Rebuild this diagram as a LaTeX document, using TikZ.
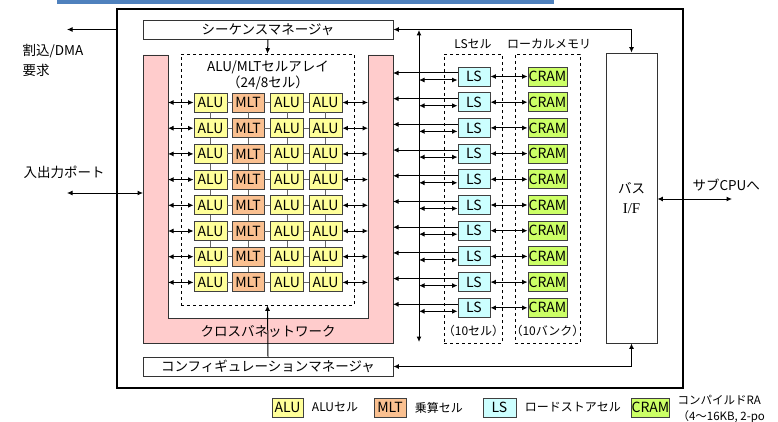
\documentclass[tikz,border=0pt]{standalone}
\usepackage{fontspec}
\setmainfont{Noto Sans CJK JP}
\newfontfamily\serifjp{Liberation Serif}
\usepackage{tikz}
\usetikzlibrary{arrows.meta}
\usetikzlibrary{positioning}
\definecolor{alucol}{HTML}{FFFF99}
\definecolor{mltcol}{HTML}{FAC090}
\definecolor{lscol}{HTML}{CCFFFF}
\definecolor{cramcol}{HTML}{CCFF66}
\definecolor{xbarcol}{HTML}{FFCCCC}
\definecolor{barcol}{HTML}{4F81BD}
\definecolor{edgecol}{HTML}{404040}
\tikzset{cell/.style={rectangle,draw=edgecol,line width=0.9pt,inner sep=0pt,minimum height=19pt,font=\fontsize{14}{15}\selectfont}}
\tikzset{alu/.style={cell,fill=alucol,minimum width=33pt}}
\tikzset{mlt/.style={cell,fill=mltcol,minimum width=32pt}}
\tikzset{lsc/.style={cell,fill=lscol,minimum width=32pt}}
\tikzset{cram/.style={cell,fill=cramcol,minimum width=39pt}}
\tikzset{mgr/.style={rectangle,draw=black!80,line width=0.8pt,fill=white,minimum width=250pt,minimum height=19pt,inner sep=0pt}}
\tikzset{grp/.style={rectangle,draw=black,dashed,line width=0.6pt,inner sep=0pt}}
\tikzset{wire/.style={line width=1pt,>={Latex[length=5.5pt,width=5pt]}}}
\tikzset{link/.style={draw=black!60,line width=0.8pt}}
\tikzset{small/.style={font=\fontsize{12}{14}\selectfont}}

\begin{document}
\begin{tikzpicture}[x=1pt,y=-1pt,font=\fontsize{13.5}{20}\selectfont]
\useasboundingbox (0,0) rectangle (778,422);
\fill[white] (0,0) rectangle (778,422);
\fill[barcol] (57,0) rectangle (554,4);

\node[draw,line width=1.5pt,minimum width=566pt,minimum height=379pt,inner sep=0pt] (frame) at (400,198.5) {};

% crossbar network
\node[minimum width=25pt,minimum height=288pt,inner sep=0pt,outer sep=0pt] (xl) at (155.5,199) {};
\node[minimum width=25pt,minimum height=288pt,inner sep=0pt,outer sep=0pt] (xr) at (380.5,199) {};
\coordinate (xin) at (268,318);
\draw[fill=xbarcol,draw=black!80,line width=0.7pt] (xl.north west) -- (xl.north east) -- (xl.north east |- xin)
  -- (xr.north west |- xin) -- (xr.north west) -- (xr.north east) -- (xr.south east) -- (xl.south west) -- cycle;
\node (xbar) at (268,331) {クロスバネットワーク};

% cell array
\node[grp,minimum width=173pt,minimum height=251pt] (arr) at (267.5,179.5) {};
\node (arrt) at (268,67) {ALU/MLTセルアレイ};
\node (arrn) at (268,83) {（24/8セル）};
\foreach \r in {1,...,8} {
  \pgfmathsetmacro\y{102.5+25.7*(\r-1)}
  \node[alu] (c\r1) at (210.5,\y) {ALU};
  \node[mlt] (c\r2) at (248,\y) {MLT};
  \node[alu] (c\r3) at (287,\y) {ALU};
  \node[alu] (c\r4) at (325.5,\y) {ALU};
  \draw[link] (c\r1) -- (c\r2) (c\r2) -- (c\r3) (c\r3) -- (c\r4);
  \draw[wire,<->] (xl.east |- c\r1) -- (c\r1);
  \draw[wire,<->] (c\r4) -- (xr.west |- c\r4);
}
\foreach \r in {1,...,7}
  \foreach \c in {1,...,4} {
    \pgfmathtruncatemacro\s{\r+1}
    \draw[link] (c\r\c) -- (c\s\c);
  }

% managers
\node[mgr] (seq) at (268,29.5) {シーケンスマネージャ};
\node[mgr] (cfg) at (268,366.5) {コンフィギュレーションマネージャ};
\draw[wire,->] (seq.south) -- (arr.north);
\draw[wire,->] (cfg.north) -- (arr.south);

% bus interface
\node[draw=black!80,line width=0.8pt,minimum width=51pt,minimum height=290pt,inner sep=0pt,align=center] (bus) at (631.5,198) {バス\\{\serifjp\fontsize{15}{20}\selectfont I/F}};
\draw[wire,<->] (seq.east) -- (bus.north |- seq.east) -- (bus.north);
\draw[wire,<->] (cfg.east) -- (bus.south |- cfg.east) -- (bus.south);

% load/store cells and local memory
\node[grp,minimum width=58pt,minimum height=289pt] (lsg) at (473,198.5) {};
\node[grp,minimum width=65pt,minimum height=289pt] (memg) at (547.5,198.5) {};
\node[small] (lsgt) at (473,44) {LSセル};
\node[small] (memgt) at (549,44) {ローカルメモリ};
\node[small] (lsgn) at (473.5,331) {（10セル）};
\node[small] (memgn) at (547.5,331) {（10バンク）};
\coordinate (vtop) at (419,30);
\coordinate (vbot) at (419,342);
\draw[wire,<->] (vbot) -- (vtop);
\foreach \i in {1,...,10} {
  \pgfmathsetmacro\y{76.5+25.7*(\i-1)}
  \node[lsc] (ls\i) at (474,\y) {LS};
  \node[cram] (cr\i) at (547.5,\y) {CRAM};
  \draw[wire,<->] (ls\i) -- (cr\i);
  \coordinate (lsu\i) at ([yshift=3.5pt]ls\i.west);
  \coordinate (lsd\i) at ([yshift=-3.5pt]ls\i.west);
  \draw[wire,->] (lsu\i) -- (xr.east |- lsu\i);
  \draw[wire,<->] (vtop |- lsd\i) -- (lsd\i);
}

% outside signals
\coordinate (irq) at (67,29.5);
\draw[wire,->] (frame.west |- seq) -- (irq);
\node[anchor=west,align=left] (irqt) at (19,60) {割込/DMA\\要求};
\coordinate (io) at (67,193);
\draw[wire,<->] (io) -- (xl.west |- io);
\node[anchor=west] (iot) at (20,172) {入出力ポート};
\coordinate (cpu) at (732,199);
\draw[wire,<->] (bus.east |- cpu) -- (cpu);
\node[anchor=west] (cput) at (689,185) {サブCPUへ};

% legend
\node[alu,minimum width=31pt] (kalu) at (287.5,407.5) {ALU};
\node[small,right=5pt of kalu] (kalut) {ALUセル};
\node[mlt] (kmlt) at (390,407.5) {MLT};
\node[small,right=5pt of kmlt] (kmltt) {乗算セル};
\node[lsc,minimum width=33pt] (kls) at (499.5,407.5) {LS};
\node[small,right=5pt of kls] (klst) {ロードストアセル};
\node[cram,minimum width=37pt] (kcram) at (650.5,407.5) {CRAM};
\node[anchor=west,align=left,font=\fontsize{11.5}{16}\selectfont] (kcramt) at (674,409) {コンパイルドRA\\（4〜16KB, 2-po};
\end{tikzpicture}
\end{document}
